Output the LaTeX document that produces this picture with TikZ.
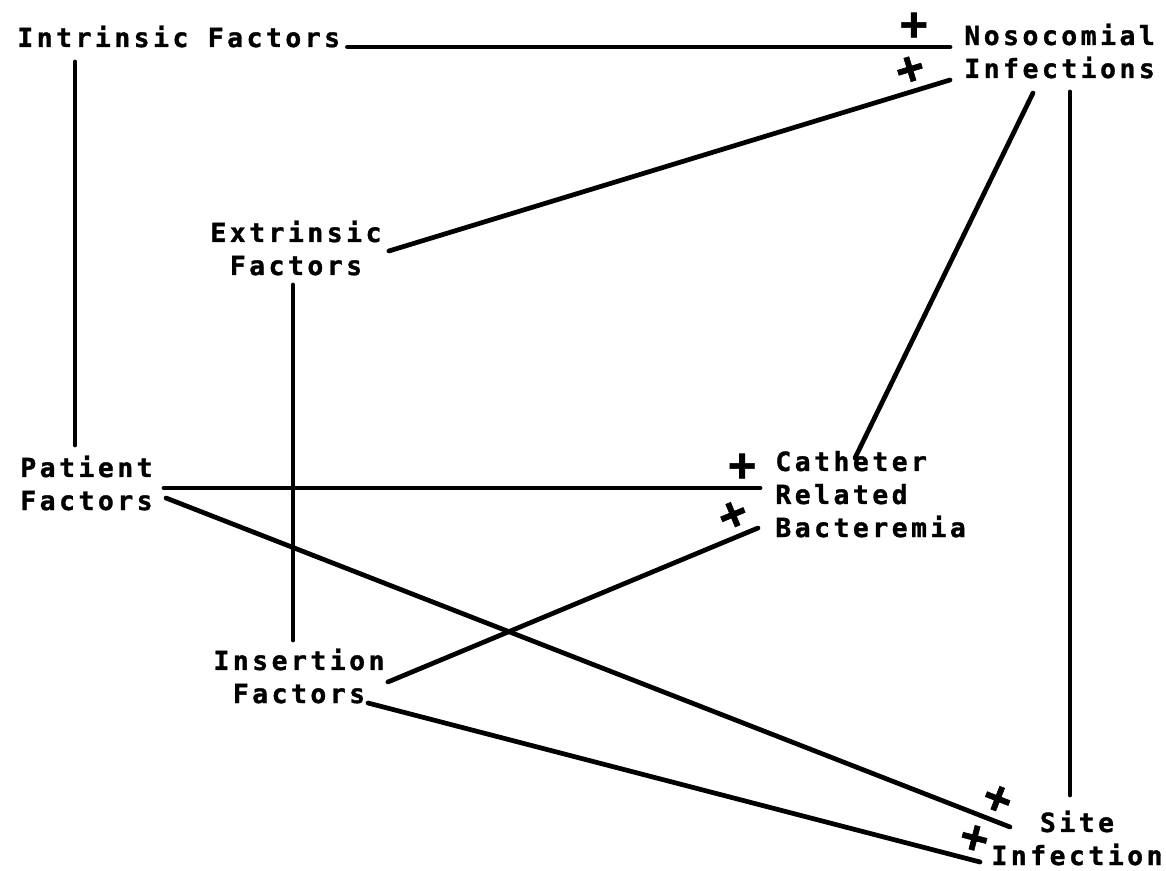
\documentclass[tikz,border=0pt]{standalone}
\usepackage{fontspec}
\newfontfamily\chartfont[LetterSpace=13.4, FakeBold=1.2]{DejaVu Sans Mono Bold}
\usetikzlibrary{calc}
\tikzset{
  every picture/.style={line width=2.7pt, line cap=round},
  lbl/.style={font=\chartfont\fontsize{15}{18.8}\selectfont, inner sep=0pt},
  link/.style={draw=black},
  sign/.style={font=\chartfont\fontsize{26}{26}\selectfont, inner sep=1pt, above=2pt, sloped},
}

\begin{document}
\begin{tikzpicture}[x=0.02cm, y=-0.02cm]
  \useasboundingbox (0,0) rectangle (1166,871);
  \node[lbl, anchor=base west] (intr) at (15,47) {Intrinsic Factors};
  \node[lbl, anchor=base west, align=left] (noso) at (962,78) {Nosocomial\\Infections};
  \node[lbl, anchor=base, align=center] (extr) at (296,275) {Extrinsic\\Factors};
  \node[lbl, anchor=base west, align=left] (pat) at (18,510) {Patient\\Factors};
  \node[lbl, anchor=base west, align=left] (cath) at (773,537) {Catheter\\Related\\Bacteremia};
  \node[lbl, anchor=base, align=center] (ins) at (299,703) {Insertion\\Factors};
  \node[lbl, anchor=base, align=center] (site) at (1077,865) {Site\\Infection};

  \draw[link] ($(intr.base east)+(5,0)$) -- node[sign, pos=0.94] {+} ($(noso.base west)+(-12,-31)$);
  \draw[link] ($(extr.base east)+(5,-24)$) -- node[sign, pos=0.94] {+} ($(noso.base west)+(-12,2)$);
  \draw[link] ($(intr.base west)+(60,15)$) -- ($(pat.base west)+(57,-65)$);
  \draw[link] ($(extr.base)+(-3,10)$) -- ($(ins.base)+(-6,-63)$);
  \draw[link] ($(noso.base west)+(71,15)$) -- ($(cath.base west)+(82,-79)$);
  \draw[link] ($(noso.base west)+(108,14)$) -- ($(site.base)+(-7,-70)$);
  \draw[link] ($(pat.base east)+(9,-22)$) -- node[sign, pos=0.97] {+} ($(cath.base west)+(-13,-49)$);
  \draw[link] ($(ins.base east)+(1,-21)$) -- node[sign, pos=0.955] {+} ($(cath.base west)+(-15,-9)$);
  \draw[link] ($(pat.base east)+(11,-12)$) -- node[sign, pos=0.976] {+} ($(site.base)+(-67,-38)$);
  \draw[link] ($(ins.base)+(69,0)$) -- node[sign, pos=0.982] {+} ($(site.base)+(-97,-3)$);
\end{tikzpicture}
\end{document}
